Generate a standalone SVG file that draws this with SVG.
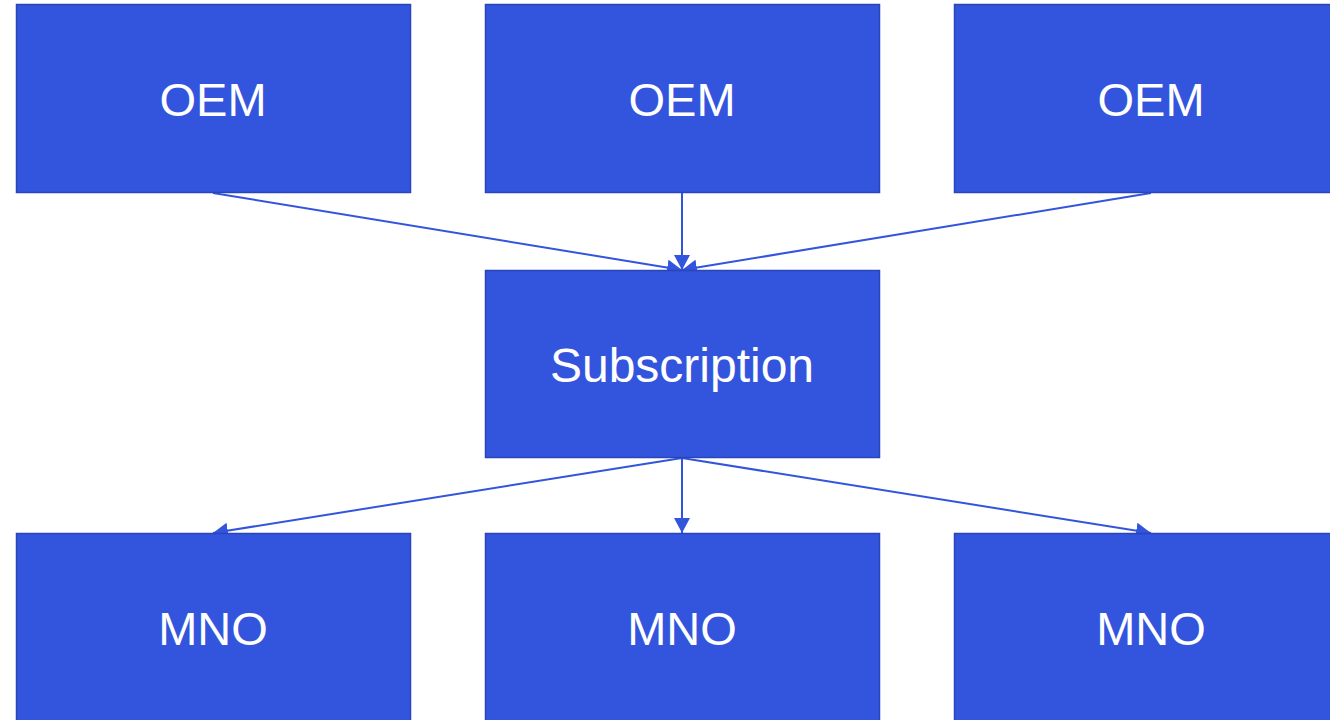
<svg xmlns="http://www.w3.org/2000/svg" width="1330" height="720" viewBox="0 0 1330 720">
<style>
.box{fill:#3355dd;stroke:#2a45b8;stroke-width:1.5}
.lbl{font-family:"Liberation Sans",Arial,sans-serif;font-size:47px;fill:#ffffff;text-anchor:middle}
.edge{stroke:#3355dd;stroke-width:2;fill:none;marker-end:url(#ah)}
</style>
<defs>
<marker id="ah" viewBox="0 0 15 16" refX="15" refY="8" markerWidth="15" markerHeight="16" markerUnits="userSpaceOnUse" orient="auto">
<path d="M0,0 L15,8 L0,16 z" fill="#3355dd"/>
</marker>
</defs>
<rect width="1330" height="720" fill="#ffffff"/>
<g id="connectors">
<line class="edge" x1="213" y1="193" x2="682" y2="270"/>
<line class="edge" x1="682" y1="193" x2="682" y2="270"/>
<line class="edge" x1="1151" y1="193" x2="682" y2="270"/>
<line class="edge" x1="682" y1="458" x2="213" y2="533"/>
<line class="edge" x1="682" y1="458" x2="682" y2="533"/>
<line class="edge" x1="682" y1="458" x2="1151" y2="533"/>
</g>
<g id="oem1"><rect class="box" x="16.5" y="4.5" width="394" height="188"/><text class="lbl" x="213" y="116">OEM</text></g>
<g id="oem2"><rect class="box" x="485.5" y="4.5" width="394" height="188"/><text class="lbl" x="682" y="116">OEM</text></g>
<g id="oem3"><rect class="box" x="954.5" y="4.5" width="394" height="188"/><text class="lbl" x="1151" y="116">OEM</text></g>
<g id="subscription"><rect class="box" x="485.5" y="270.5" width="394" height="187"/><text class="lbl" x="682" y="382" style="font-size:48px">Subscription</text></g>
<g id="mno1"><rect class="box" x="16.5" y="533.5" width="394" height="188"/><text class="lbl" x="213" y="645">MNO</text></g>
<g id="mno2"><rect class="box" x="485.5" y="533.5" width="394" height="188"/><text class="lbl" x="682" y="645">MNO</text></g>
<g id="mno3"><rect class="box" x="954.5" y="533.5" width="394" height="188"/><text class="lbl" x="1151" y="645">MNO</text></g>
</svg>
